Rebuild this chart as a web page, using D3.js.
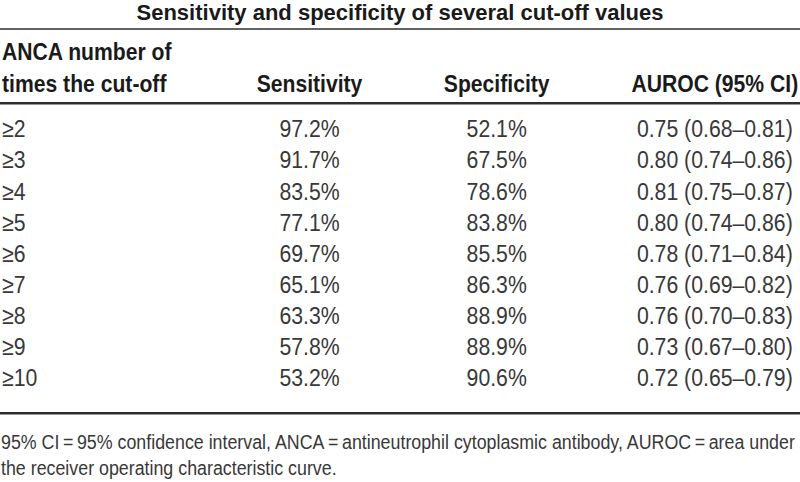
<!DOCTYPE html>
<html><head><meta charset="utf-8">
<script src="https://cdn.jsdelivr.net/npm/d3@7"></script>
<style>body{margin:0;background:#fff}svg{display:block}</style>
</head><body>
<script>
const title = "Sensitivity and specificity of several cut-off values";
const headerFirst = ["ANCA number of", "times the cut-off"];
const headers = ["Sensitivity", "Specificity", "AUROC (95% CI)"];
const cutoffs = ["≥2","≥3","≥4","≥5","≥6","≥7","≥8","≥9","≥10"];
const sensitivity = [97.2, 91.7, 83.5, 77.1, 69.7, 65.1, 63.3, 57.8, 53.2];
const specificity = [52.1, 67.5, 78.6, 83.8, 85.5, 86.3, 88.9, 88.9, 90.6];
const auroc = [0.75, 0.80, 0.81, 0.80, 0.78, 0.76, 0.76, 0.73, 0.72];
const ciLow = [0.68, 0.74, 0.75, 0.74, 0.71, 0.69, 0.70, 0.67, 0.65];
const ciHigh = [0.81, 0.86, 0.87, 0.86, 0.84, 0.82, 0.83, 0.80, 0.79];
const footnote = ["95% CI\u2009=\u200995% confidence interval, ANCA\u2009=\u2009antineutrophil cytoplasmic antibody, AUROC\u2009=\u2009area under",
  "the receiver operating characteristic curve."];

const W = 800, H = 482;
const FONT = "'Liberation Sans Narrow','Arial Narrow','Liberation Sans',sans-serif";
const svg = d3.select("body").append("svg").attr("width", W).attr("height", H)
  .style("font-family", FONT);

// row baselines via band scale (step ~31.1)
const y = d3.scaleBand().domain(cutoffs).range([121.75, 401.65]);
const colX = [2, 309.5, 496.7, 714.8];
const fmtP = d3.format(".1f"), fmt2 = d3.format(".2f");

function txt(g, x, yy, s, opt) {
  const t = g.append("text")
    .attr("transform", `translate(${x},${yy}) scale(${opt.sx || 1},1)`)
    .attr("font-size", opt.fs).attr("fill", opt.fill || "#333")
    .attr("text-anchor", opt.anchor || "start")
    .text(s);
  if (opt.bold) t.attr("font-weight", "bold");
  if (opt.ls) t.attr("letter-spacing", opt.ls);
  return t;
}

txt(svg, 400, 19.5, title, {fs: 22, sx: 1.0, bold: true, anchor: "middle", fill: "#1a1a1a"});

const lines = [[29, 1.6], [103.3, 2.4], [413.3, 2.6]];
lines.forEach(([yy, w]) => svg.append("line").attr("x1", 0).attr("x2", W)
  .attr("y1", yy).attr("y2", yy).attr("stroke", "#2e2e2e").attr("stroke-width", w));

const HB = {fs: 23, sx: 0.92, bold: true, fill: "#1a1a1a"};
headerFirst.forEach((t, i) => txt(svg, 2, 59.5 + i * 32, t, HB));
headers.forEach((t, i) => txt(svg, colX[i + 1], 91.5, t, Object.assign({}, HB, {anchor: "middle"})));

const rows = svg.append("g");
const BODY = {fs: 24, sx: 0.885, fill: "#383838"};
cutoffs.forEach((c, i) => {
  const yy = y(c) + y.bandwidth() / 2;
  txt(rows, colX[0], yy, c, BODY);
  txt(rows, colX[1], yy, fmtP(sensitivity[i]) + "%", Object.assign({}, BODY, {anchor: "middle"}));
  txt(rows, colX[2], yy, fmtP(specificity[i]) + "%", Object.assign({}, BODY, {anchor: "middle"}));
  txt(rows, colX[3], yy, `${fmt2(auroc[i])} (${fmt2(ciLow[i])}–${fmt2(ciHigh[i])})`, Object.assign({}, BODY, {anchor: "middle"}));
});

// footnote, fitted to the same width as the reference line
const f1 = txt(svg, 1, 448.5, footnote[0], {fs: 21, fill: "#383838"});
const fsx = 794 / f1.node().getComputedTextLength();
f1.attr("transform", `translate(1,448.5) scale(${fsx},1)`);
txt(svg, 1, 475, footnote[1], {fs: 21, sx: fsx, fill: "#383838"});
</script>
</body></html>
